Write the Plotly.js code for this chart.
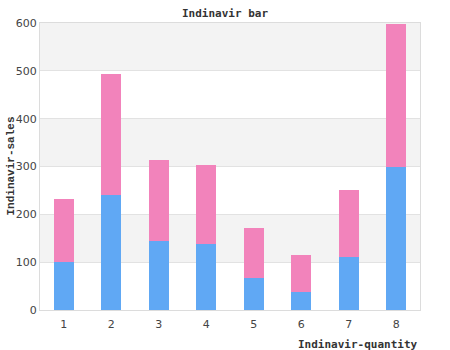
<!DOCTYPE html>
<html>
<head>
<meta charset="utf-8">
<script src="https://cdn.plot.ly/plotly-3.0.1.min.js"></script>
<style>html,body{margin:0;padding:0;background:#fff;}#chart{width:450px;height:350px;}</style>
</head>
<body>
<div id="chart"></div>
<script>
var categories = [1, 2, 3, 4, 5, 6, 7, 8];
var blueValues = [100, 240, 144, 139, 67, 38, 111, 298];
var pinkValues = [132, 253, 170, 164, 105, 77, 140, 300];
var yTicks = [0, 100, 200, 300, 400, 500, 600];

var traces = [
  {type: 'bar', x: categories, y: blueValues, marker: {color: '#60a8f4'}, hoverinfo: 'none'},
  {type: 'bar', x: categories, y: pinkValues, marker: {color: '#f283bb'}, hoverinfo: 'none'}
];

var shapes = [];
for (var i = 1; i < yTicks.length; i += 2) {
  shapes.push({type: 'rect', xref: 'paper', yref: 'y', x0: 0, x1: 1, y0: yTicks[i], y1: yTicks[i + 1],
    fillcolor: '#f3f3f3', line: {width: 0}, layer: 'below'});
}

var layout = {
  width: 450, height: 350,
  margin: {l: 40, r: 30, t: 23, b: 40},
  barmode: 'stack',
  bargap: 0.58,
  showlegend: false,
  paper_bgcolor: '#fff',
  plot_bgcolor: '#fff',
  title: {text: 'Indinavir bar', font: {family: 'DejaVu Sans Mono', size: 11, color: '#333', weight: 'bold'},
    x: 0.5, xanchor: 'center', yref: 'container', y: 1 - 13/350, yanchor: 'middle'},
  xaxis: {
    range: [0.5, 8.5], tickvals: categories, ticktext: categories.map(String),
    showgrid: false, showline: true, mirror: true, linecolor: '#dcdcdc', linewidth: 1,
    tickfont: {family: 'DejaVu Sans', size: 11, color: '#444'}, ticks: '', zeroline: false,
    ticklabelstandoff: 4
  },
  yaxis: {
    range: [0, 600], tickvals: yTicks, ticktext: yTicks.map(String),
    showgrid: true, gridcolor: '#e2e2e2', gridwidth: 1,
    showline: true, mirror: true, linecolor: '#dcdcdc', linewidth: 1, zeroline: false,
    tickfont: {family: 'DejaVu Sans', size: 11, color: '#444'}, ticks: ''
  },
  shapes: shapes,
  annotations: [
    {text: 'Indinavir-quantity', xref: 'paper', yref: 'paper', x: 1, y: -34/287, xanchor: 'right', yanchor: 'middle',
      showarrow: false, font: {family: 'DejaVu Sans Mono', size: 11, color: '#333', weight: 'bold'}},
    {text: 'Indinavir-sales', xref: 'paper', yref: 'paper', x: -30/380, y: 0.5, xanchor: 'center', yanchor: 'middle',
      textangle: -90, showarrow: false, font: {family: 'Liberation Mono', size: 11, color: '#333', weight: 'bold'}}
  ]
};

Plotly.newPlot('chart', traces, layout, {displayModeBar: false, staticPlot: true});
</script>
</body>
</html>
